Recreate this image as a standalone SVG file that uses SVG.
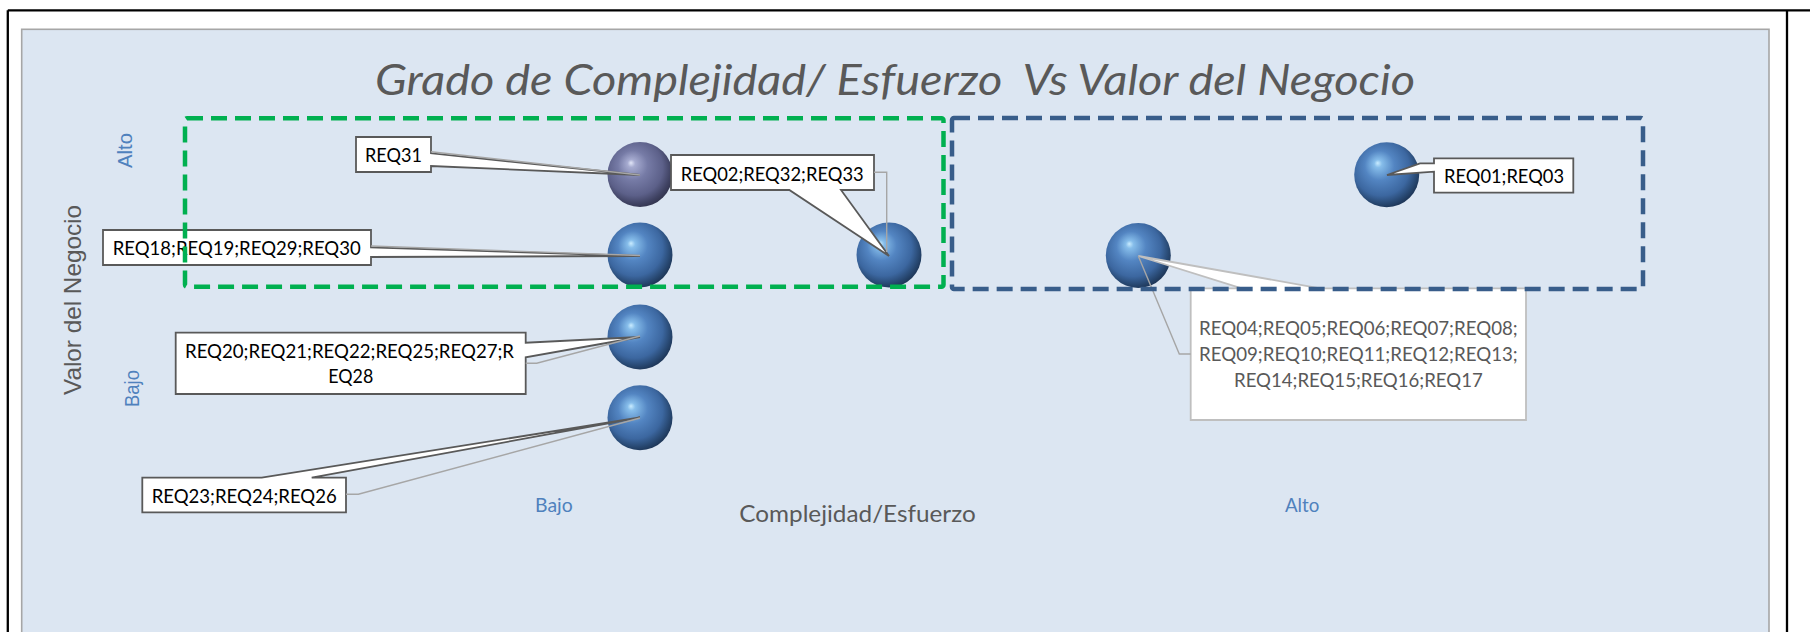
<svg xmlns="http://www.w3.org/2000/svg" width="1810" height="632" viewBox="0 0 1810 632">
<defs>
<radialGradient id="gBlue" cx="0.44" cy="0.42" r="0.6" fx="0.36" fy="0.32">
<stop offset="0" stop-color="#c9ecff"/>
<stop offset="0.1" stop-color="#86bdea"/>
<stop offset="0.38" stop-color="#5385c2"/>
<stop offset="0.72" stop-color="#3c67a0"/>
<stop offset="0.9" stop-color="#274770"/>
<stop offset="1" stop-color="#1d3556"/>
</radialGradient>
<radialGradient id="gPurple" cx="0.44" cy="0.42" r="0.6" fx="0.36" fy="0.32">
<stop offset="0" stop-color="#e2e6f8"/>
<stop offset="0.1" stop-color="#a6abd0"/>
<stop offset="0.38" stop-color="#767ba6"/>
<stop offset="0.72" stop-color="#5c6089"/>
<stop offset="0.9" stop-color="#3f4262"/>
<stop offset="1" stop-color="#33354f"/>
</radialGradient>
<style>
.lbl{font-family:Lato,"Open Sans","Liberation Sans",sans-serif;font-size:19px;fill:#000}
.lblg{font-family:Lato,"Open Sans","Liberation Sans",sans-serif;font-size:19px;fill:#595959}
.call{fill:#fff;stroke:#595959;stroke-width:1.8;stroke-linejoin:miter}
.callg{fill:#fff;stroke:#bfbfbf;stroke-width:1.8}
.lead{fill:none;stroke:#a6a6a6;stroke-width:1.4}
.ax{font-family:Lato,"Open Sans","Liberation Sans",sans-serif;font-size:19px;fill:#4F81BD}
.yax{font-family:"Liberation Sans",Arial,sans-serif;fill:#4F81BD;font-size:20px}
.bub{fill:url(#gBlue)}
.bubp{fill:url(#gPurple)}
</style>
</defs>
<rect x="0" y="0" width="1810" height="632" fill="#ffffff"/>
<line x1="7.8" y1="10.3" x2="1810" y2="10.3" stroke="#000" stroke-width="2.3"/>
<line x1="7.8" y1="10.3" x2="7.8" y2="632" stroke="#000" stroke-width="2.3"/>
<line x1="1787" y1="10.3" x2="1787" y2="632" stroke="#000" stroke-width="2.3"/>
<rect id="chart-area" x="21.7" y="29.3" width="1747.3" height="620" fill="#DCE6F2" stroke="#a6a6a6" stroke-width="1.6"/>

<text id="title" x="375" y="95" xml:space="preserve" font-family="Lato,'Open Sans',sans-serif" font-style="italic" font-size="43" fill="#595959" textLength="1040" lengthAdjust="spacingAndGlyphs">Grado de Complejidad/ Esfuerzo  Vs Valor del Negocio</text>

<g id="axis-y">
<text transform="translate(81,300) rotate(-90)" text-anchor="middle" font-family="'Liberation Sans',Arial,sans-serif" font-size="24.5" fill="#595959" textLength="190" lengthAdjust="spacingAndGlyphs">Valor del Negocio</text>
<text class="yax" transform="translate(131.7,150.5) rotate(-90)" text-anchor="middle" textLength="35" lengthAdjust="spacingAndGlyphs">Alto</text>
<text class="yax" transform="translate(138.5,388.5) rotate(-90)" text-anchor="middle" textLength="37" lengthAdjust="spacingAndGlyphs">Bajo</text>
</g>
<g id="axis-x">
<text class="ax" x="535" y="511.7" textLength="37.7" lengthAdjust="spacingAndGlyphs">Bajo</text>
<text class="ax" x="1285" y="511.7" textLength="34.3" lengthAdjust="spacingAndGlyphs">Alto</text>
<text x="739.3" y="521.7" font-family="Lato,'Open Sans',sans-serif" font-size="24" fill="#595959" textLength="236.4" lengthAdjust="spacingAndGlyphs">Complejidad/Esfuerzo</text>
</g>

<g id="node-req31">
<circle class="bubp" cx="640" cy="174.5" r="32.5"/>
<path class="call" d="M356,137 H431 V153.3 L640,175 L431,166 V172 H356 Z"/>
<text class="lbl" x="365" y="161.7" textLength="57" lengthAdjust="spacingAndGlyphs">REQ31</text>
</g>
<g id="node-req18">
<circle class="bub" cx="640" cy="255" r="32.5"/>
<path class="call" d="M103,230 H371 V247.5 L640,256 L371,257 V265 H103 Z"/>
<text class="lbl" x="112.7" y="255" textLength="248" lengthAdjust="spacingAndGlyphs">REQ18;REQ19;REQ29;REQ30</text>
</g>
<g id="node-req02">
<circle class="bub" cx="889" cy="255" r="32.5"/>
<path class="call" d="M671,155 H874 V190 H841 L889,256 L789.3,190 H671 Z"/>
<text class="lbl" x="680.7" y="180.7" textLength="183" lengthAdjust="spacingAndGlyphs">REQ02;REQ32;REQ33</text>
</g>
<g id="node-req01">
<circle class="bub" cx="1386.7" cy="174.7" r="32.5"/>
<path class="call" d="M1434,158.3 H1573.3 V192.7 H1434 V171.7 L1387,175 L1420,163.3 L1434,163.3 Z"/>
<text class="lbl" x="1444" y="182.7" textLength="120" lengthAdjust="spacingAndGlyphs">REQ01;REQ03</text>
</g>
<g id="node-req04">
<circle class="bub" cx="1138.3" cy="255.5" r="32.5"/>
<path class="callg" d="M1190.7,288.3 H1241.7 L1138.3,256 L1320,288.3 H1526 V420 H1190.7 Z"/>
<text class="lblg" x="1199" y="335" textLength="318.7" lengthAdjust="spacingAndGlyphs">REQ04;REQ05;REQ06;REQ07;REQ08;</text>
<text class="lblg" x="1199" y="361" textLength="318.7" lengthAdjust="spacingAndGlyphs">REQ09;REQ10;REQ11;REQ12;REQ13;</text>
<text class="lblg" x="1234" y="386.7" textLength="248.7" lengthAdjust="spacingAndGlyphs">REQ14;REQ15;REQ16;REQ17</text>
</g>
<g id="node-req20">
<circle class="bub" cx="640" cy="337" r="32.5"/>
<path class="call" d="M175.7,332.7 H525.7 V342.7 L640,337 L525.7,357.3 V394 H175.7 Z"/>
<text class="lbl" x="185" y="358.3" textLength="329" lengthAdjust="spacingAndGlyphs">REQ20;REQ21;REQ22;REQ25;REQ27;R</text>
<text class="lbl" x="328.3" y="383.3" textLength="45" lengthAdjust="spacingAndGlyphs">EQ28</text>
</g>
<g id="node-req23">
<circle class="bub" cx="640" cy="417.8" r="32.5"/>
<path class="call" d="M142.3,477.7 H261.7 L640,417.5 L311.7,477.7 H346 V512.3 H142.3 Z"/>
<text class="lbl" x="151.7" y="502.7" textLength="185" lengthAdjust="spacingAndGlyphs">REQ23;REQ24;REQ26</text>
</g>

<g id="connectors">
<path class="lead" d="M431,151.7 L640,175"/>
<path class="lead" d="M371,246 L640,255.5"/>
<path class="lead" d="M874,172.3 H886.7 V252"/>
<path class="lead" d="M525.7,363.3 H536.7 L640,336"/>
<path class="lead" d="M346,494.3 H358.3 L640,418"/>
<path class="lead" d="M1190.7,354 H1179.3 L1138.3,256"/>
</g>

<g id="zones">
<rect id="zone-green" x="185" y="118.3" width="758.5" height="168.4" rx="2" fill="none" stroke="#00B050" stroke-width="4.5" stroke-dasharray="16 8"/>
<rect id="zone-blue" x="952" y="118" width="691" height="171" rx="2" fill="none" stroke="#385D8A" stroke-width="4.5" stroke-dasharray="16 8"/>
</g>
</svg>
